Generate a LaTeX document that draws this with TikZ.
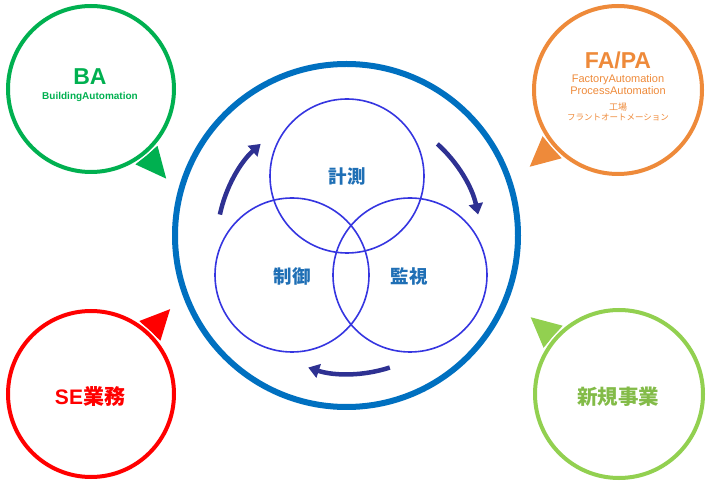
\documentclass[tikz,border=0pt]{standalone}
\usepackage{fontspec}
\setmainfont{Liberation Sans}
\newfontfamily\cjk{Noto Sans CJK JP}
\usetikzlibrary{arrows.meta}
\definecolor{bagreen}{HTML}{00B050}
\definecolor{faorange}{HTML}{EE8A3A}
\definecolor{sered}{HTML}{FF0000}
\definecolor{newgreen}{HTML}{92D050}
\definecolor{bigblue}{HTML}{0070C0}
\definecolor{smallblue}{HTML}{3535E0}
\definecolor{txtblue}{HTML}{1F6FB5}
\definecolor{arrnavy}{HTML}{2E3192}
\tikzset{
  outer/.style={line width=4pt},
  gap/.style={draw=white,line width=7pt},
  venn/.style={draw=smallblue,line width=1.6pt},
  cyc/.style={draw=arrnavy,line width=4.5pt,-{Triangle[width=14pt,length=11pt]}},
  vlabel/.style={text=txtblue,font=\cjk\bfseries\fontsize{18.5}{20}\selectfont,inner sep=0pt},
}
\begin{document}
\begin{tikzpicture}[x=1pt,y=1pt]
\useasboundingbox (0,0) rectangle (710,485);
\coordinate (cba) at (91,396);
\coordinate (cfa) at (618,395);
\coordinate (cse) at (91,91);
\coordinate (cnew) at (619,91);
% tails
\fill[bagreen] ([shift={(-59.5:87.5pt)}]cba) -- ([shift={(-50:117pt)}]cba) -- ([shift={(-40.5:87.5pt)}]cba) -- cycle;
\fill[faorange] ([shift={(211.5:88.5pt)}]cfa) -- ([shift={(221:117pt)}]cfa) -- ([shift={(230.5:88.5pt)}]cfa) -- cycle;
\fill[sered] ([shift={(37.5:87.5pt)}]cse) -- ([shift={(47:116pt)}]cse) -- ([shift={(56.5:87.5pt)}]cse) -- cycle;
\fill[newgreen] ([shift={(129.5:88.5pt)}]cnew) -- ([shift={(139:117pt)}]cnew) -- ([shift={(148.5:88.5pt)}]cnew) -- cycle;
% outer circles
\draw[gap] (cba) circle[radius=83pt];
\draw[gap] (cfa) circle[radius=84pt];
\draw[gap] (cse) circle[radius=83pt];
\draw[gap] (cnew) circle[radius=84pt];
\draw[outer,bagreen] (cba) circle[radius=83pt];
\draw[outer,faorange] (cfa) circle[radius=84pt];
\draw[outer,sered] (cse) circle[radius=83pt];
\draw[outer,newgreen] (cnew) circle[radius=84pt];
% outer texts
\node[text=bagreen,font=\bfseries\fontsize{23}{25}\selectfont,inner sep=0pt] (ba) at (90,408) {BA};
\node[text=bagreen,font=\bfseries\fontsize{10}{11}\selectfont,inner sep=0pt] (bafull) at (90,388) {BuildingAutomation};
\node[text=faorange,font=\bfseries\fontsize{23}{25}\selectfont,inner sep=0pt] (fa) at (618,425) {FA/PA};
\node[text=faorange,font=\fontsize{11}{12}\selectfont,inner sep=0pt] (fa1) at (618,405) {FactoryAutomation};
\node[text=faorange,font=\fontsize{11}{12}\selectfont,inner sep=0pt] (fa2) at (618,394) {ProcessAutomation};
\node[text=faorange,font=\cjk\fontsize{9}{10}\selectfont,inner sep=0pt] (fa3) at (618,378) {工場};
\node[text=faorange,font=\cjk\fontsize{8.5}{10}\selectfont,inner sep=0pt] (fa4) at (618,368) {フラントオートメーション};
\node[text=sered,font=\bfseries\fontsize{21}{23}\selectfont,inner sep=0pt] (se) at (90,88) {SE{\cjk 業務}};
\node[text=newgreen!90!black,font=\cjk\bfseries\fontsize{20.5}{22}\selectfont,inner sep=0pt] (new) at (618,88) {新規事業};
% big circle
\coordinate (cbig) at (346.5,249.5);
\draw[bigblue,line width=6pt] (cbig) circle[radius=171.5pt];
% venn circles
\coordinate (ctop) at (347,309);
\coordinate (cleft) at (292,210);
\coordinate (cright) at (410,210);
\draw[venn] (ctop) circle[radius=77pt];
\draw[venn] (cleft) circle[radius=77pt];
\draw[venn] (cright) circle[radius=77pt];
\node[vlabel] (kei) at (347,308) {計測};
\node[vlabel] (sei) at (292,209) {制御};
\node[vlabel] (kan) at (409,209) {監視};
% cycle arrows
\coordinate (carc) at (349,243);
\draw[cyc] ([shift={(168:132pt)}]carc) arc[start angle=168,end angle=132,radius=132pt];
\draw[cyc] ([shift={(48:132pt)}]carc) arc[start angle=48,end angle=12,radius=132pt];
\draw[cyc] ([shift={(-72:132pt)}]carc) arc[start angle=-72,end angle=-108,radius=132pt];
\end{tikzpicture}
\end{document}
